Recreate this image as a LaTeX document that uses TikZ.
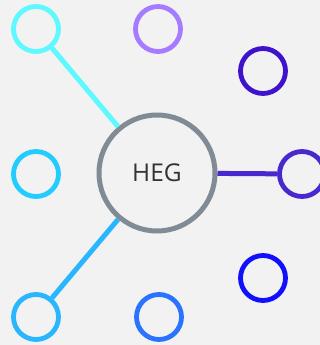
\documentclass[tikz,border=0pt]{standalone}
\usepackage{fontspec}
\setsansfont{Open Sans}
\usepackage{tikz}
\usetikzlibrary{positioning}
\definecolor{bgcol}{HTML}{F2F2F2}
\definecolor{hubcol}{HTML}{808B95}
\definecolor{cyanA}{HTML}{5EF8FF}
\definecolor{lilac}{HTML}{A77BFF}
\definecolor{indigoA}{HTML}{3F12CC}
\definecolor{indigoB}{HTML}{4A28D0}
\definecolor{blueA}{HTML}{1010FF}
\definecolor{blueB}{HTML}{2A73FF}
\definecolor{skyA}{HTML}{2AB6FF}
\definecolor{skyB}{HTML}{22CCFF}
\begin{document}
\begin{tikzpicture}[x=1pt,y=-1pt, font=\sffamily,
 hub/.style={draw=hubcol,circle,line width=5pt,minimum size=116pt,inner sep=0pt,
  text=black!80,font=\sffamily\fontsize{24.5}{28}\selectfont},
 leaf/.style={draw=#1,circle,line width=4.8pt,minimum size=45pt,inner sep=0pt},
 link/.style={line width=5pt}]
\fill[bgcol] (0,0) rectangle (320,345);
\useasboundingbox (0,0) rectangle (320,345);
\node[hub] (heg) at (157,173) {HEG};
\node[leaf=cyanA] (tl) at (36,29) {};
\node[leaf=lilac] (tm) at (158,29) {};
\node[leaf=indigoA] (tr) at (263,71) {};
\node[leaf=indigoB] (mr) at (302,174) {};
\node[leaf=blueA] (br) at (263,278) {};
\node[leaf=blueB] (bm) at (159,317) {};
\node[leaf=skyA] (bl) at (36,317) {};
\node[leaf=skyB] (ml) at (36,174) {};
\draw[link,cyanA] (tl) -- (heg);
\draw[link,skyA] (bl) -- (heg);
\draw[link,indigoB] (heg) -- (mr);
\end{tikzpicture}
\end{document}
